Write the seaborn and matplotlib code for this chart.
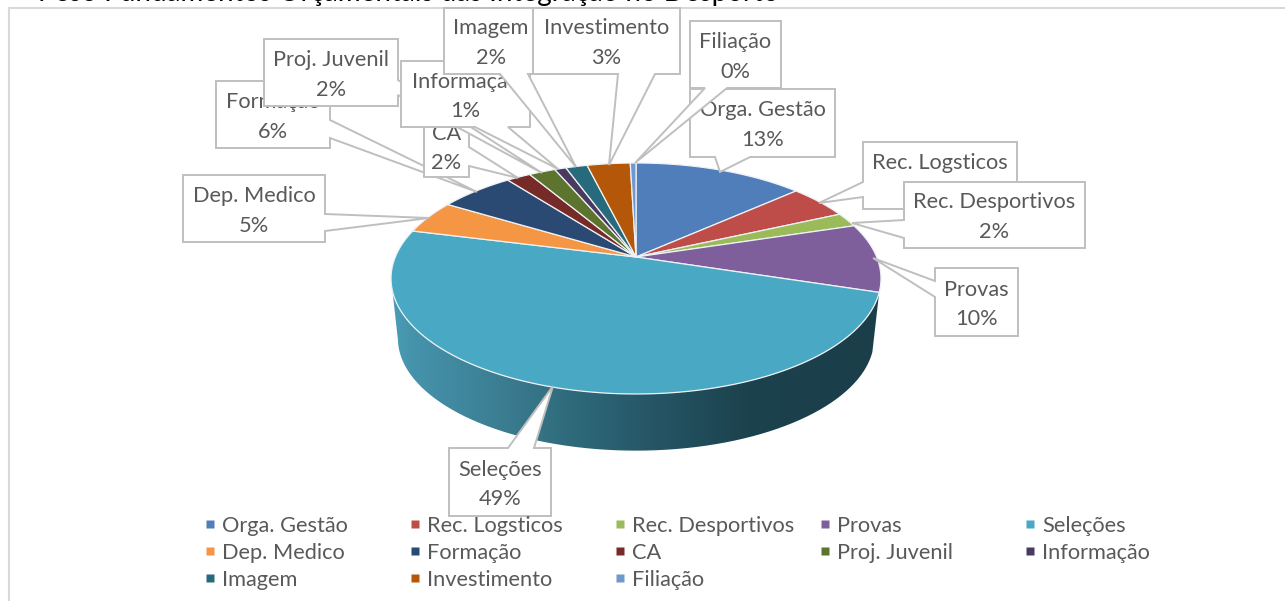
import numpy as np
import matplotlib
matplotlib.use("Agg")
import matplotlib.pyplot as plt
from matplotlib.patches import Polygon, PathPatch
from matplotlib.path import Path
from matplotlib.lines import Line2D
from matplotlib.colors import LinearSegmentedColormap
import seaborn as sns

# ---- data ----
categories = ["Orga. Gestão", "Rec. Logsticos", "Rec. Desportivos", "Provas", "Seleções",
              "Dep. Medico", "Formação", "CA", "Proj. Juvenil", "Informação",
              "Imagem", "Investimento", "Filiação"]
values = [13.4, 4.8, 2.0, 9.6, 49.0, 4.7, 5.9, 1.9, 2.1, 0.9, 1.7, 3.4, 0.45]
percent_labels = ["13%", "5%", "2%", "10%", "49%", "5%", "6%", "2%", "2%", "1%", "2%", "3%", "0%"]
colors = ["#4F7EBA", "#BE4D4A", "#9ABB58", "#7E5F9C", "#49A9C4", "#F59644", "#2A4A73",
          "#772B29", "#5D742F", "#4B3A60", "#276A7C", "#B55708", "#7098CC"]
title_fragment = "Peso Fundamentos Orçamentais das Integração no Desporto"

sns.set_theme(style="white")
plt.rcParams["font.family"] = ["Lato", "DejaVu Sans"]
palette = sns.color_palette(colors)

W, H = 1285, 601
fig = plt.figure(figsize=(W / 100, H / 100), dpi=100)
ax = fig.add_axes([0, 0, 1, 1])
ax.set_xlim(0, W)
ax.set_ylim(H, 0)
ax.axis("off")

# ---- perspective pie geometry ----
CX, CY = 636.0, 257.0
A, B, K = 240.7, 111.5, 0.186
BOTTOM_SCALE, BOTTOM_CY = 0.972, 317.5


def rim(theta, cy=CY, scale=1.0):
    x, y = np.sin(theta), np.cos(theta)
    w = 1 + K * y
    return np.column_stack([CX + scale * A * x / w, cy - scale * B * y / w])


vals = np.asarray(values, dtype=float)
edges = np.concatenate([[0], np.cumsum(vals)]) / vals.sum() * 2 * np.pi

# side wall of the large slice, running to the left silhouette, with horizontal shading
i_big = int(np.argmax(vals))
th_left = 2 * np.pi - np.arccos(-K)
th = np.linspace(edges[i_big], th_left, 300)
side_pts = np.vstack([rim(th), rim(th[::-1], BOTTOM_CY, BOTTOM_SCALE)])
side_path = PathPatch(Path(np.vstack([side_pts, side_pts[0]])), fc="none", ec="none",
                      transform=ax.transData)
ax.add_patch(side_path)
stops = [(390, "#4A9DB6"), (413, "#4593AB"), (513, "#3A7A8E"), (567, "#2F6B7C"),
         (647, "#265767"), (747, "#1C424E"), (847, "#1B3F4A"), (882, "#1B3F4A")]
x0s, x1s = stops[0][0], stops[-1][0]
cmap = LinearSegmentedColormap.from_list(
    "side", [((s - x0s) / (x1s - x0s), c) for s, c in stops])
im = ax.imshow(np.linspace(0, 1, 512).reshape(1, -1), cmap=cmap, aspect="auto",
               extent=(x0s, x1s, 460, 230), zorder=1, interpolation="bilinear")
im.set_clip_path(side_path)
ax.set_xlim(0, W)
ax.set_ylim(H, 0)

# top face
for i, col in enumerate(palette):
    t = np.linspace(edges[i], edges[i + 1], max(6, int((edges[i + 1] - edges[i]) * 120)))
    pts = np.vstack([[CX, CY], rim(t)])
    ax.add_patch(Polygon(pts, closed=True, fc=col, ec="#EEF2F5", lw=0.9, zorder=2,
                         joinstyle="round"))

# ---- frame and clipped heading ----
ax.plot([8.5, 8.5, W], [H, 7.5, 7.5], color="#D9D9D9", lw=1.5, zorder=1.5,
        solid_joinstyle="miter")
ax.text(38, 1, title_fragment, fontsize=20, color="black", ha="left", va="baseline", zorder=1)

# ---- callouts, in series order: x0, y0, x1, y1, side, base0, base1, tip ----
callouts = [
    (690, 89, 835, 157, "b", 715, 750, (720, 172)),
    (863, 142, 1017, 209, "l", 182, 197, (819, 203)),
    (904, 182, 1085, 248, "l", 220, 238, (852, 223)),
    (935, 268, 1018, 336, "l", 281, 297, (873, 258)),
    (449, 448, 551, 516, "t", 508, 534, (553, 386)),
    (183, 175, 325, 242, "r", 214, 231, (429, 218)),
    (216, 81, 330, 148, "r", 120, 138, (477, 192)),
    (424, 115, 469, 177, "r", 147, 166, (518, 178)),
    (264, 39, 398, 106, "r", 80, 95, (542, 173)),
    (401, 61, 530, 127, "b", 475, 508, (558, 169)),
    (444, 8, 538, 74, "b", 500, 528, (576, 167)),
    (533, 8, 680, 74, "b", 618, 655, (609, 165)),
    (690, 21, 781, 88, "b", 705, 727, (635, 163)),
]
for i, (x0, y0, x1, y1, side, b0, b1, tip) in enumerate(callouts):
    if side == "b":
        pts = [(x0, y0), (x1, y0), (x1, y1), (b1, y1), tip, (b0, y1), (x0, y1)]
    elif side == "t":
        pts = [(x0, y0), (b0, y0), tip, (b1, y0), (x1, y0), (x1, y1), (x0, y1)]
    elif side == "l":
        pts = [(x0, y0), (x1, y0), (x1, y1), (x0, y1), (x0, b1), tip, (x0, b0)]
    else:
        pts = [(x0, y0), (x1, y0), (x1, b0), tip, (x1, b1), (x1, y1), (x0, y1)]
    z = 10 + i
    ax.add_patch(Polygon(pts, closed=True, fc="white", ec="#BFBFBF", lw=1.4, zorder=z,
                         joinstyle="miter"))
    xc, yc = (x0 + x1) / 2, (y0 + y1) / 2
    ax.text(xc, yc - 12.5, categories[i], ha="center", va="center", fontsize=15.7,
            color="#595959", zorder=z + 0.5)
    ax.text(xc, yc + 17, percent_labels[i], ha="center", va="center", fontsize=15.7,
            color="#595959", zorder=z + 0.5)

# ---- legend: five aligned columns ----
col_x = [205, 410, 615, 820, 1025]
for c, x in enumerate(col_x):
    idx = range(c, len(categories), 5)
    handles = [Line2D([], [], ls="none", marker="s", ms=5.8, mfc=palette[j], mec="none",
                      label=categories[j]) for j in idx]
    leg = ax.legend(handles=handles, loc="upper left", bbox_to_anchor=(x, 515.5),
                    bbox_transform=ax.transData, frameon=False, fontsize=15.7, borderpad=0,
                    borderaxespad=0, handlelength=0.5, handletextpad=0.3, labelspacing=0.33,
                    labelcolor="#595959")
    leg.set_zorder(30)
    ax.add_artist(leg)
ax.legend_ = None

fig.savefig("out.png", dpi=100, facecolor="white")
